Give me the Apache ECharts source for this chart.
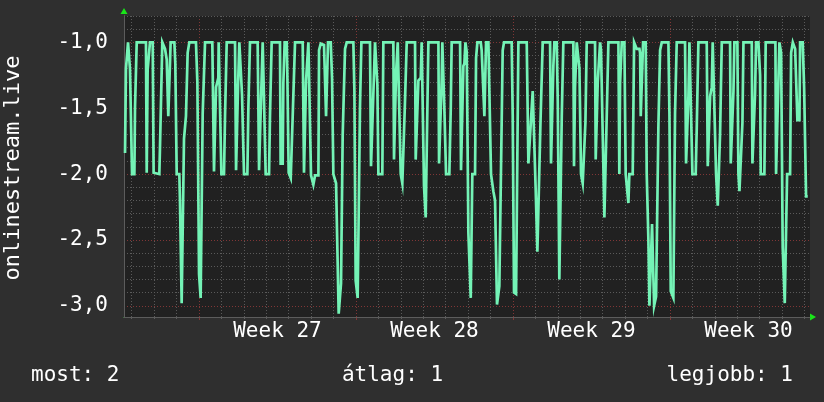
<!DOCTYPE html>
<html><head><meta charset="utf-8">
<script src="https://cdn.jsdelivr.net/npm/echarts@6/dist/echarts.min.js"></script>
<style>html,body{margin:0;padding:0;background:#2f2f2f;}#c{width:824px;height:402px;}</style>
</head><body><div id="c"></div>
<script>
// time in hours since the left edge of the graph, value
const samplesA = [[1.1,-1.84],[2.1,-1.20],[3.6,-1.20],[4.3,-1.00],[5.7,-1.00],[6.4,-1.20],[8.2,-1.20],[8.6,-2.00],[11.1,-2.00],[11.8,-1.49],[12.8,-1.49],[13.6,-1.00],[23.5,-1.00],[24.3,-1.99],[25.3,-1.21],[27.1,-1.21],[27.8,-1.00],[30.7,-1.00],[31.7,-1.99],[32.5,-2.00],[37.8,-2.00],[38.5,-1.80],[39.6,-1.80],[41.0,-1.00],[42.8,-1.00],[43.9,-1.05],[45.7,-1.13],[47.4,-1.56],[49.2,-1.56],[49.9,-1.00],[53.9,-1.00],[54.9,-1.16],[56.4,-2.00],[59.2,-2.00],[59.9,-2.21],[61.0,-2.21],[61.7,-2.98],[63.5,-2.98],[64.2,-1.73],[66.3,-1.56],[68.1,-1.08],[69.9,-1.00],[77.0,-1.00],[78.5,-1.30],[80.3,-2.76],[82.0,-2.94],[83.5,-2.94],[84.2,-1.54],[85.6,-1.54],[86.7,-1.00],[94.5,-1.00],[96.3,-1.98],[97.7,-1.98],[98.5,-1.34],[99.9,-1.34],[100.9,-1.27],[101.3,-1.00],[102.7,-1.00],[104.2,-2.00],[107.0,-2.00],[108.1,-1.56],[109.2,-1.56],[109.9,-1.00],[118.8,-1.00],[119.9,-1.97],[121.3,-1.97],[122.0,-1.34],[123.4,-1.00],[124.8,-1.00],[126.3,-1.40],[127.7,-1.40],[128.4,-2.00],[132.0,-2.00],[133.1,-1.49],[134.8,-1.00],[143.0,-1.00],[144.5,-1.97],[145.5,-1.97],[147.0,-1.34],[148.4,-1.00],[149.8,-1.00],[151.6,-2.00],[155.2,-2.00],[156.2,-1.56],[158.0,-1.00],[166.9,-1.00],[167.6,-1.92],[169.8,-1.92],[170.5,-1.31],[171.9,-1.00],[174.1,-1.00],[174.8,-1.26],[176.2,-1.99],[177.6,-1.99],[178.4,-2.03],[179.8,-2.03],[180.5,-1.56],[183.0,-1.00],[191.2,-1.00],[192.6,-1.99],[194.0,-1.99],[194.8,-1.29],[196.2,-1.29],[197.3,-1.00],[198.3,-1.00],[200.1,-2.01],[202.6,-2.08],[204.4,-2.01],[208.0,-2.01],[208.7,-1.06],[210.5,-1.01],[211.2,-1.00],[212.6,-1.01],[214.0,-1.02],[216.2,-1.56],[217.6,-1.56],[218.3,-1.00],[221.2,-1.00],[222.6,-1.27],[224.0,-2.00],[225.8,-2.00],[226.9,-2.07],[228.3,-2.07],[229.7,-3.06],[231.1,-3.06],[232.2,-2.83],[234.0,-1.70],[236.5,-1.05],[238.3,-1.00],[245.4,-1.00],[246.5,-1.36],[247.9,-2.81],[249.7,-2.81],[250.0,-2.94],[251.8,-2.94],[252.5,-1.49],[254.0,-1.00]];
const samplesB = [[263.2,-1.00],[264.3,-1.94],[265.7,-1.94],[266.8,-1.39],[267.5,-1.39],[268.6,-1.00],[269.7,-1.00],[271.1,-1.32],[272.2,-2.00],[276.4,-2.00],[277.5,-1.00],[288.2,-1.00],[288.9,-1.89],[290.4,-1.89],[291.1,-1.23],[291.8,-1.23],[292.9,-1.00],[294.3,-1.00],[296.1,-2.00],[297.8,-2.07],[299.6,-2.07],[300.7,-1.44],[301.8,-1.44],[302.5,-1.00],[311.4,-1.00],[312.1,-1.89],[313.9,-1.89],[315.0,-1.29],[317.5,-1.27],[318.5,-1.00],[319.6,-1.00],[321.0,-2.09],[322.8,-2.33],[324.6,-2.33],[325.7,-1.00],[336.4,-1.00],[337.1,-1.92],[338.9,-1.92],[339.9,-1.29],[340.6,-1.00],[341.7,-1.00],[342.8,-1.51],[344.6,-2.00],[348.1,-2.00],[349.6,-1.51],[350.6,-1.00],[359.6,-1.00],[360.6,-1.97],[362.1,-1.97],[363.1,-1.18],[364.2,-1.16],[365.3,-1.00],[366.7,-1.07],[368.5,-2.45],[369.5,-2.45],[371.0,-2.94],[372.7,-2.00],[375.6,-2.00],[376.7,-1.12],[378.1,-1.00],[381.7,-1.00],[382.7,-1.06],[384.5,-1.07],[385.6,-1.56],[386.7,-1.56],[387.4,-1.00],[389.9,-1.00],[392.7,-2.00],[395.2,-2.13],[397.0,-2.20],[398.1,-2.20],[399.1,-2.99],[400.6,-2.99],[401.6,-2.85],[405.2,-1.06],[406.6,-1.00],[414.8,-1.00],[415.9,-1.55],[417.3,-2.90],[419.5,-2.91],[422.0,-1.00],[430.9,-1.00],[432.7,-1.92],[434.4,-1.92],[437.3,-1.37],[438.7,-1.37],[440.5,-2.12],[442.3,-2.59],[444.4,-2.59],[445.5,-1.64],[446.9,-1.64],[448.0,-1.00],[455.9,-1.00],[456.9,-1.92],[458.7,-1.92],[459.4,-1.18],[460.5,-1.00],[463.0,-1.00],[464.1,-1.44],[465.8,-2.80],[467.6,-2.80],[468.4,-1.56],[470.1,-1.00],[480.8,-1.00],[481.5,-1.94],[482.6,-1.34],[484.4,-1.00],[486.2,-1.00],[487.3,-1.20],[489.0,-2.00],[490.8,-2.07],[492.2,-2.07],[493.7,-1.61],[495.1,-1.00]];
const samplesC = [[504.0,-1.00],[504.7,-1.89],[506.5,-1.89],[506.9,-1.30],[508.3,-1.30],[509.4,-1.00],[510.4,-1.06],[512.2,-1.06],[514.0,-2.33],[515.8,-2.33],[516.5,-1.56],[517.6,-1.56],[518.3,-1.00],[529.0,-1.00],[530.0,-2.00],[530.8,-1.31],[531.8,-1.31],[532.6,-1.00],[535.4,-1.00],[536.8,-2.00],[538.6,-2.00],[539.7,-2.22],[540.7,-2.00],[544.3,-2.00],[545.8,-1.00],[547.5,-1.00],[548.6,-1.05],[551.5,-1.05],[552.2,-1.08],[552.9,-1.56],[554.7,-1.56],[555.4,-1.00],[558.2,-1.00],[559.3,-2.00],[560.7,-2.00],[561.1,-2.50],[562.2,-3.00],[564.3,-3.00],[565.0,-2.38],[566.4,-2.38],[567.2,-3.00],[569.3,-2.93],[571.8,-1.63],[573.6,-1.06],[575.4,-1.00],[582.5,-1.00],[583.6,-1.54],[585.0,-2.89],[587.1,-2.89],[587.8,-2.94],[589.6,-1.54],[591.4,-1.00],[600.3,-1.00],[601.4,-1.92],[602.8,-1.92],[603.9,-1.41],[605.0,-1.00],[606.7,-1.00],[608.2,-2.00],[611.7,-2.00],[612.8,-1.66],[614.6,-1.00],[623.5,-1.00],[624.6,-1.94],[626.4,-1.94],[627.1,-1.41],[628.9,-1.34],[629.9,-1.00],[631.4,-1.42],[633.5,-2.00],[635.3,-2.24],[637.1,-2.24],[637.8,-1.69],[639.6,-1.00],[648.5,-1.00],[649.2,-1.92],[651.3,-1.92],[652.1,-1.37],[653.1,-1.00],[656.3,-1.00],[657.4,-2.00],[658.5,-2.13],[660.3,-2.13],[661.7,-1.61],[662.8,-1.00],[671.7,-1.00],[672.4,-1.92],[674.2,-1.92],[675.2,-1.39],[676.3,-1.00],[678.8,-1.00],[680.6,-1.25],[681.3,-2.00],[685.2,-2.00],[686.6,-1.00],[697.0,-1.00],[697.7,-2.00],[699.1,-2.00],[700.2,-1.29],[701.3,-1.00],[703.1,-1.08],[704.8,-2.56],[707.0,-2.98],[709.1,-2.98],[709.5,-2.00],[712.7,-2.00],[713.8,-1.08],[715.6,-1.00],[717.0,-1.00],[718.1,-1.05],[719.8,-1.05],[720.5,-1.59],[722.7,-1.59],[723.4,-1.00],[726.2,-1.00],[727.7,-1.34],[729.8,-2.17],[731.6,-2.17]];

const xMaxHours = 734;
const yMin = -3.085, yMax = -0.80;
const firstMidnightHour = 8.2;
const dayCount = 31;
const weekStartHours = [80.2, 248.2, 416.2, 584.2];
const weekLabelHours = [164.2, 332.2, 500.2, 668.2];
const weekLabels = ['Week 27', 'Week 28', 'Week 29', 'Week 30'];
const yMajorTicks = [-3.0, -2.5, -2.0, -1.5, -1.0];
const yMinorTicks = [-2.9, -2.8, -2.7, -2.6, -2.4, -2.3, -2.2, -2.1, -1.9, -1.8, -1.7, -1.6, -1.4, -1.3, -1.2, -1.1, -0.9, -0.8];
const yTitle = 'onlinestream.live';
const legendTexts = ['most: 2', 'átlag: 1', 'legjobb: 1'];

const dayLineHours = [];
for (let k = 0; k < dayCount; k++) {
  const h = Math.round((firstMidnightHour + 24 * k) * 10) / 10;
  if (h < xMaxHours && weekStartHours.indexOf(h) < 0) dayLineHours.push(h);
}
const samples = samplesA.concat(samplesB, samplesC);

const FONT = '"DejaVu Sans Mono", monospace';
const minorCol = '#5a5a5a', majorCol = '#803636', axisCol = '#5c5c5c', arrowCol = '#19e619';
const dots = [1, 2];

const chart = echarts.init(document.getElementById('c'), null, { renderer: 'canvas' });
chart.setOption({
  animation: false,
  backgroundColor: '#2f2f2f',
  grid: { left: 124, right: 14, top: 16, bottom: 85, show: true, backgroundColor: '#212121', borderWidth: 0 },
  xAxis: [
    { type: 'value', min: 0, max: xMaxHours, position: 'bottom', z: 1,
      axisLine: { show: true, lineStyle: { color: axisCol, width: 1 } },
      axisTick: { show: true, customValues: dayLineHours, length: 2, lineStyle: { color: axisCol } },
      axisLabel: { show: true, customValues: weekLabelHours, margin: 4, color: '#ffffff', fontFamily: FONT, fontSize: 21,
        formatter: v => { const i = weekLabelHours.indexOf(Math.round(v * 10) / 10); return i >= 0 ? weekLabels[i] : ''; } },
      splitLine: { show: true, lineStyle: { color: minorCol, width: 1, type: dots } } },
    { type: 'value', min: 0, max: xMaxHours, position: 'bottom', z: 0,
      axisLine: { show: false },
      axisTick: { show: true, customValues: weekStartHours, length: 3, lineStyle: { color: majorCol } },
      axisLabel: { show: false },
      splitLine: { show: true, lineStyle: { color: majorCol, width: 1, type: dots } } },
    { type: 'value', min: 0, max: xMaxHours, position: 'bottom', z: 0,
      axisLine: { show: true, symbol: ['none', 'triangle'], symbolSize: [7, 6], symbolOffset: [0, 3], lineStyle: { color: arrowCol, width: 1 } },
      axisTick: { show: false }, axisLabel: { show: false }, splitLine: { show: false } }
  ],
  yAxis: [
    { type: 'value', min: yMin, max: yMax, position: 'left', z: 1,
      axisLine: { show: true, lineStyle: { color: axisCol, width: 1 } },
      axisTick: { show: false, customValues: yMinorTicks },
      axisLabel: { show: false },
      splitLine: { show: true, lineStyle: { color: minorCol, width: 1, type: dots } } },
    { type: 'value', min: yMin, max: yMax, position: 'left', z: 0,
      axisLine: { show: false },
      axisTick: { show: false, customValues: yMajorTicks },
      axisLabel: { show: true, customValues: yMajorTicks, margin: 16, color: '#ffffff', fontFamily: FONT, fontSize: 21,
        formatter: v => v.toFixed(1).replace('.', ',') },
      splitLine: { show: true, lineStyle: { color: majorCol, width: 1, type: dots } } },
    { type: 'value', min: yMin, max: yMax, position: 'left', z: 0,
      axisLine: { show: true, symbol: ['none', 'triangle'], symbolSize: [7, 6], symbolOffset: [0, 5], lineStyle: { color: arrowCol, width: 1 } },
      axisTick: { show: false }, axisLabel: { show: false }, splitLine: { show: false } }
  ],
  series: [{
    type: 'line', xAxisIndex: 0, yAxisIndex: 0, data: samples, showSymbol: false, z: 5,
    lineStyle: { color: '#74f3b6', width: 2.7, join: 'miter' }
  }],
  graphic: [
    { type: 'text', x: 13.4, y: 168, rotation: Math.PI / 2,
      style: { text: yTitle, font: '22px ' + FONT, fill: '#ffffff', align: 'center', verticalAlign: 'middle', textAlign: 'center', textVerticalAlign: 'middle' } },
    { type: 'text', x: 31, y: 375.4,
      style: { text: legendTexts[0], font: '21px ' + FONT, fill: '#ffffff', align: 'left', verticalAlign: 'middle', textAlign: 'left', textVerticalAlign: 'middle' } },
    { type: 'text', x: 392.5, y: 375.4,
      style: { text: legendTexts[1], font: '21px ' + FONT, fill: '#ffffff', align: 'center', verticalAlign: 'middle', textAlign: 'center', textVerticalAlign: 'middle' } },
    { type: 'text', x: 793, y: 375.4,
      style: { text: legendTexts[2], font: '21px ' + FONT, fill: '#ffffff', align: 'right', verticalAlign: 'middle', textAlign: 'right', textVerticalAlign: 'middle' } }
  ]
});
</script></body></html>
